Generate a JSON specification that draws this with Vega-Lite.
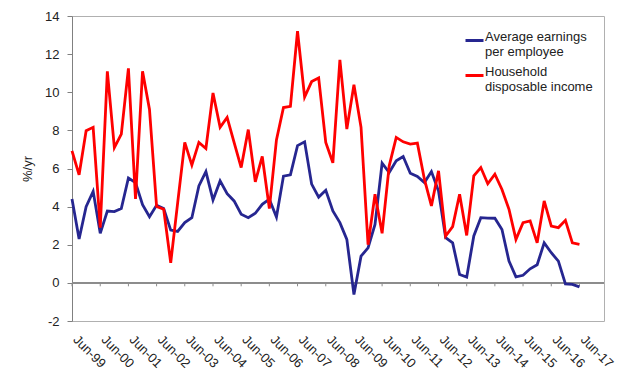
{
  "$schema": "https://vega.github.io/schema/vega-lite/v6.json",
  "width": 532,
  "height": 305,
  "autosize": {"type": "none"},
  "padding": {"left": 72, "top": 16, "right": 36, "bottom": 69},
  "background": "white",
  "config": {
    "view": {"stroke": "#b0b0b0", "strokeWidth": 1},
    "font": "Liberation Sans",
    "axis": {"labelFont": "Liberation Sans", "titleFont": "Liberation Sans", "labelColor": "#222222", "titleColor": "#222222", "labelFontSize": 13, "titleFontSize": 13, "titleFontWeight": "normal", "grid": false, "labelOverlap": false}
  },
  "resolve": {"axis": {"x": "independent", "y": "independent"}},
  "data": {"values": [
    {"date":"1999-06-01","series":"Average earnings per employee","value":4.4},
    {"date":"1999-09-01","series":"Average earnings per employee","value":2.3},
    {"date":"1999-12-01","series":"Average earnings per employee","value":4.0},
    {"date":"2000-03-01","series":"Average earnings per employee","value":4.8},
    {"date":"2000-06-01","series":"Average earnings per employee","value":2.6},
    {"date":"2000-09-01","series":"Average earnings per employee","value":3.77},
    {"date":"2000-12-01","series":"Average earnings per employee","value":3.74},
    {"date":"2001-03-01","series":"Average earnings per employee","value":3.9},
    {"date":"2001-06-01","series":"Average earnings per employee","value":5.5},
    {"date":"2001-09-01","series":"Average earnings per employee","value":5.26},
    {"date":"2001-12-01","series":"Average earnings per employee","value":4.1},
    {"date":"2002-03-01","series":"Average earnings per employee","value":3.47},
    {"date":"2002-06-01","series":"Average earnings per employee","value":4.07},
    {"date":"2002-09-01","series":"Average earnings per employee","value":3.9},
    {"date":"2002-12-01","series":"Average earnings per employee","value":2.77},
    {"date":"2003-03-01","series":"Average earnings per employee","value":2.7},
    {"date":"2003-06-01","series":"Average earnings per employee","value":3.16},
    {"date":"2003-09-01","series":"Average earnings per employee","value":3.42},
    {"date":"2003-12-01","series":"Average earnings per employee","value":5.09},
    {"date":"2004-03-01","series":"Average earnings per employee","value":5.84},
    {"date":"2004-06-01","series":"Average earnings per employee","value":4.35},
    {"date":"2004-09-01","series":"Average earnings per employee","value":5.35},
    {"date":"2004-12-01","series":"Average earnings per employee","value":4.68},
    {"date":"2005-03-01","series":"Average earnings per employee","value":4.3},
    {"date":"2005-06-01","series":"Average earnings per employee","value":3.6},
    {"date":"2005-09-01","series":"Average earnings per employee","value":3.42},
    {"date":"2005-12-01","series":"Average earnings per employee","value":3.65},
    {"date":"2006-03-01","series":"Average earnings per employee","value":4.12},
    {"date":"2006-06-01","series":"Average earnings per employee","value":4.39},
    {"date":"2006-09-01","series":"Average earnings per employee","value":3.45},
    {"date":"2006-12-01","series":"Average earnings per employee","value":5.6},
    {"date":"2007-03-01","series":"Average earnings per employee","value":5.67},
    {"date":"2007-06-01","series":"Average earnings per employee","value":7.2},
    {"date":"2007-09-01","series":"Average earnings per employee","value":7.4},
    {"date":"2007-12-01","series":"Average earnings per employee","value":5.18},
    {"date":"2008-03-01","series":"Average earnings per employee","value":4.5},
    {"date":"2008-06-01","series":"Average earnings per employee","value":4.86},
    {"date":"2008-09-01","series":"Average earnings per employee","value":3.77},
    {"date":"2008-12-01","series":"Average earnings per employee","value":3.16},
    {"date":"2009-03-01","series":"Average earnings per employee","value":2.28},
    {"date":"2009-06-01","series":"Average earnings per employee","value":-0.61},
    {"date":"2009-09-01","series":"Average earnings per employee","value":1.4},
    {"date":"2009-12-01","series":"Average earnings per employee","value":1.84},
    {"date":"2010-03-01","series":"Average earnings per employee","value":3.07},
    {"date":"2010-06-01","series":"Average earnings per employee","value":6.28},
    {"date":"2010-09-01","series":"Average earnings per employee","value":5.79},
    {"date":"2010-12-01","series":"Average earnings per employee","value":6.4},
    {"date":"2011-03-01","series":"Average earnings per employee","value":6.63},
    {"date":"2011-06-01","series":"Average earnings per employee","value":5.75},
    {"date":"2011-09-01","series":"Average earnings per employee","value":5.58},
    {"date":"2011-12-01","series":"Average earnings per employee","value":5.26},
    {"date":"2012-03-01","series":"Average earnings per employee","value":5.84},
    {"date":"2012-06-01","series":"Average earnings per employee","value":4.82},
    {"date":"2012-09-01","series":"Average earnings per employee","value":2.37},
    {"date":"2012-12-01","series":"Average earnings per employee","value":2.1},
    {"date":"2013-03-01","series":"Average earnings per employee","value":0.44},
    {"date":"2013-06-01","series":"Average earnings per employee","value":0.3},
    {"date":"2013-09-01","series":"Average earnings per employee","value":2.46},
    {"date":"2013-12-01","series":"Average earnings per employee","value":3.42},
    {"date":"2014-03-01","series":"Average earnings per employee","value":3.4},
    {"date":"2014-06-01","series":"Average earnings per employee","value":3.39},
    {"date":"2014-09-01","series":"Average earnings per employee","value":2.8},
    {"date":"2014-12-01","series":"Average earnings per employee","value":1.14},
    {"date":"2015-03-01","series":"Average earnings per employee","value":0.32},
    {"date":"2015-06-01","series":"Average earnings per employee","value":0.4},
    {"date":"2015-09-01","series":"Average earnings per employee","value":0.74},
    {"date":"2015-12-01","series":"Average earnings per employee","value":0.95},
    {"date":"2016-03-01","series":"Average earnings per employee","value":2.1},
    {"date":"2016-06-01","series":"Average earnings per employee","value":1.58},
    {"date":"2016-09-01","series":"Average earnings per employee","value":1.14},
    {"date":"2016-12-01","series":"Average earnings per employee","value":-0.05},
    {"date":"2017-03-01","series":"Average earnings per employee","value":-0.08},
    {"date":"2017-06-01","series":"Average earnings per employee","value":-0.21},
    {"date":"1999-06-01","series":"Household disposable income","value":6.93},
    {"date":"1999-09-01","series":"Household disposable income","value":5.67},
    {"date":"1999-12-01","series":"Household disposable income","value":7.98},
    {"date":"2000-03-01","series":"Household disposable income","value":8.16},
    {"date":"2000-06-01","series":"Household disposable income","value":2.9},
    {"date":"2000-09-01","series":"Household disposable income","value":11.1},
    {"date":"2000-12-01","series":"Household disposable income","value":7.1},
    {"date":"2001-03-01","series":"Household disposable income","value":7.8},
    {"date":"2001-06-01","series":"Household disposable income","value":11.25},
    {"date":"2001-09-01","series":"Household disposable income","value":4.4},
    {"date":"2001-12-01","series":"Household disposable income","value":11.1},
    {"date":"2002-03-01","series":"Household disposable income","value":9.1},
    {"date":"2002-06-01","series":"Household disposable income","value":4.0},
    {"date":"2002-09-01","series":"Household disposable income","value":3.86},
    {"date":"2002-12-01","series":"Household disposable income","value":1.05},
    {"date":"2003-03-01","series":"Household disposable income","value":4.2},
    {"date":"2003-06-01","series":"Household disposable income","value":7.37},
    {"date":"2003-09-01","series":"Household disposable income","value":6.18},
    {"date":"2003-12-01","series":"Household disposable income","value":7.37},
    {"date":"2004-03-01","series":"Household disposable income","value":7.05},
    {"date":"2004-06-01","series":"Household disposable income","value":9.96},
    {"date":"2004-09-01","series":"Household disposable income","value":8.16},
    {"date":"2004-12-01","series":"Household disposable income","value":8.68},
    {"date":"2005-03-01","series":"Household disposable income","value":7.37},
    {"date":"2005-06-01","series":"Household disposable income","value":6.05},
    {"date":"2005-09-01","series":"Household disposable income","value":8.04},
    {"date":"2005-12-01","series":"Household disposable income","value":5.3},
    {"date":"2006-03-01","series":"Household disposable income","value":6.63},
    {"date":"2006-06-01","series":"Household disposable income","value":3.9},
    {"date":"2006-09-01","series":"Household disposable income","value":7.5},
    {"date":"2006-12-01","series":"Household disposable income","value":9.2},
    {"date":"2007-03-01","series":"Household disposable income","value":9.26},
    {"date":"2007-06-01","series":"Household disposable income","value":13.2},
    {"date":"2007-09-01","series":"Household disposable income","value":9.75},
    {"date":"2007-12-01","series":"Household disposable income","value":10.56},
    {"date":"2008-03-01","series":"Household disposable income","value":10.75},
    {"date":"2008-06-01","series":"Household disposable income","value":7.37},
    {"date":"2008-09-01","series":"Household disposable income","value":6.3},
    {"date":"2008-12-01","series":"Household disposable income","value":11.7},
    {"date":"2009-03-01","series":"Household disposable income","value":8.07},
    {"date":"2009-06-01","series":"Household disposable income","value":10.39},
    {"date":"2009-09-01","series":"Household disposable income","value":8.16},
    {"date":"2009-12-01","series":"Household disposable income","value":2.0},
    {"date":"2010-03-01","series":"Household disposable income","value":4.65},
    {"date":"2010-06-01","series":"Household disposable income","value":2.6},
    {"date":"2010-09-01","series":"Household disposable income","value":6.14},
    {"date":"2010-12-01","series":"Household disposable income","value":7.63},
    {"date":"2011-03-01","series":"Household disposable income","value":7.4},
    {"date":"2011-06-01","series":"Household disposable income","value":7.28},
    {"date":"2011-09-01","series":"Household disposable income","value":7.33},
    {"date":"2011-12-01","series":"Household disposable income","value":5.44},
    {"date":"2012-03-01","series":"Household disposable income","value":4.04},
    {"date":"2012-06-01","series":"Household disposable income","value":5.88},
    {"date":"2012-09-01","series":"Household disposable income","value":2.46},
    {"date":"2012-12-01","series":"Household disposable income","value":2.95},
    {"date":"2013-03-01","series":"Household disposable income","value":4.65},
    {"date":"2013-06-01","series":"Household disposable income","value":2.49},
    {"date":"2013-09-01","series":"Household disposable income","value":5.61},
    {"date":"2013-12-01","series":"Household disposable income","value":6.05},
    {"date":"2014-03-01","series":"Household disposable income","value":5.2},
    {"date":"2014-06-01","series":"Household disposable income","value":5.7},
    {"date":"2014-09-01","series":"Household disposable income","value":4.9},
    {"date":"2014-12-01","series":"Household disposable income","value":3.86},
    {"date":"2015-03-01","series":"Household disposable income","value":2.28},
    {"date":"2015-06-01","series":"Household disposable income","value":3.16},
    {"date":"2015-09-01","series":"Household disposable income","value":3.25},
    {"date":"2015-12-01","series":"Household disposable income","value":2.1},
    {"date":"2016-03-01","series":"Household disposable income","value":4.3},
    {"date":"2016-06-01","series":"Household disposable income","value":2.98},
    {"date":"2016-09-01","series":"Household disposable income","value":2.9},
    {"date":"2016-12-01","series":"Household disposable income","value":3.28},
    {"date":"2017-03-01","series":"Household disposable income","value":2.1},
    {"date":"2017-06-01","series":"Household disposable income","value":2.02}
  ]},
  "layer": [
    {
      "mark": {"type": "rule", "color": "#8c8c8c", "strokeWidth": 1},
      "encoding": {"y": {"datum": 0, "type": "quantitative", "axis": null}}
    },
    {
      "transform": [{"filter": "datum.series == 'Average earnings per employee' && utcmonth(toDate(datum.date)) == 5"}],
      "mark": {"type": "rule", "color": "#8c8c8c", "strokeWidth": 1},
      "encoding": {
        "x": {"field": "date", "type": "temporal", "scale": {"type": "utc"}, "axis": null},
        "y": {"datum": 0, "type": "quantitative", "axis": null},
        "y2": {"datum": -0.18}
      }
    },
    {
      "mark": {"type": "line", "strokeWidth": 2.8, "strokeJoin": "miter", "clip": false},
      "encoding": {
        "x": {
          "field": "date", "type": "temporal",
          "scale": {"type": "utc", "domain": [{"year": 1999, "month": 6, "date": 1, "utc": true}, {"year": 2018, "month": 4, "date": 15, "utc": true}]},
          "axis": {
            "orient": "bottom", "title": null, "domain": false, "ticks": false,
            "labelExpr": "utcFormat(datum.value, '%b-%y')",
            "values": [
              {"year": 1999, "month": 6, "date": 1, "utc": true},
              {"year": 2000, "month": 6, "date": 1, "utc": true},
              {"year": 2001, "month": 6, "date": 1, "utc": true},
              {"year": 2002, "month": 6, "date": 1, "utc": true},
              {"year": 2003, "month": 6, "date": 1, "utc": true},
              {"year": 2004, "month": 6, "date": 1, "utc": true},
              {"year": 2005, "month": 6, "date": 1, "utc": true},
              {"year": 2006, "month": 6, "date": 1, "utc": true},
              {"year": 2007, "month": 6, "date": 1, "utc": true},
              {"year": 2008, "month": 6, "date": 1, "utc": true},
              {"year": 2009, "month": 6, "date": 1, "utc": true},
              {"year": 2010, "month": 6, "date": 1, "utc": true},
              {"year": 2011, "month": 6, "date": 1, "utc": true},
              {"year": 2012, "month": 6, "date": 1, "utc": true},
              {"year": 2013, "month": 6, "date": 1, "utc": true},
              {"year": 2014, "month": 6, "date": 1, "utc": true},
              {"year": 2015, "month": 6, "date": 1, "utc": true},
              {"year": 2016, "month": 6, "date": 1, "utc": true},
              {"year": 2017, "month": 6, "date": 1, "utc": true}
            ],
            "labelAngle": 45, "labelAlign": "left", "labelBaseline": "top", "labelPadding": 12, "labelOffset": 7, "labelOverlap": false, "labelFlush": false, "labelBound": false
          }
        },
        "y": {
          "field": "value", "type": "quantitative",
          "scale": {"domain": [-2, 14], "nice": false, "zero": false},
          "axis": {"orient": "left", "title": "%/yr", "values": [-2, 0, 2, 4, 6, 8, 10, 12, 14], "labelExpr": "'' + datum.value", "labelOverlap": false, "labelFlush": false, "domainColor": "#808080", "tickColor": "#808080", "tickSize": 5, "labelPadding": 8, "titlePadding": 10}
        },
        "color": {
          "field": "series", "type": "nominal",
          "scale": {"domain": ["Average earnings per employee", "Household disposable income"], "range": ["#262690", "#ff0000"]},
          "legend": {
            "title": null, "orient": "none", "legendX": 392, "legendY": 14, "padding": 0,
            "symbolType": "stroke", "symbolStrokeWidth": 3, "symbolSize": 324, "labelOffset": 0,
            "labelFont": "Liberation Sans", "labelFontSize": 13, "labelColor": "#222222", "labelBaseline": "alphabetic", "labelLimit": 300,
            "rowPadding": 6,
            "labelExpr": "datum.label == 'Average earnings per employee' ? ['Average earnings', 'per employee'] : ['Household', 'disposable income']"
          }
        }
      }
    }
  ]
}
